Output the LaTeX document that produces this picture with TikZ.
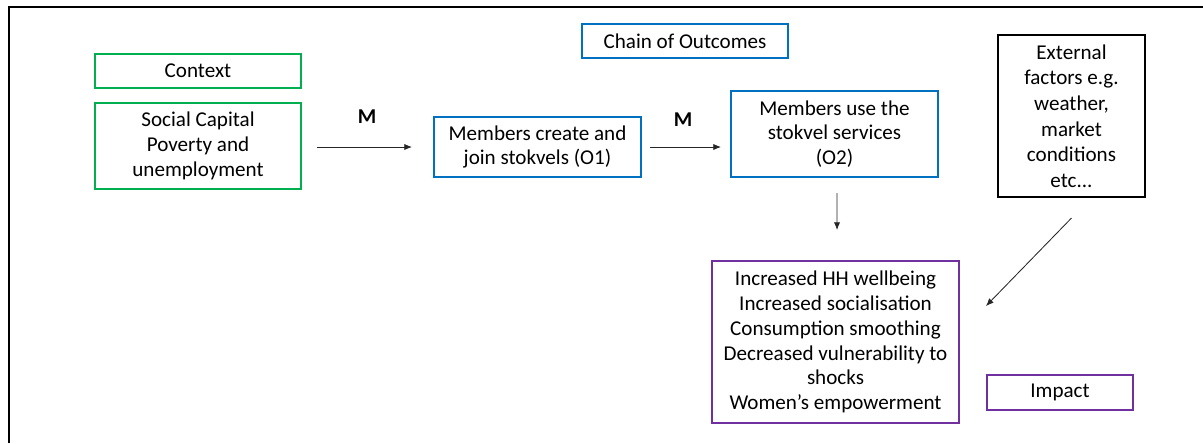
\documentclass[tikz,border=0pt]{standalone}
\usepackage{fontspec}
\setmainfont{Carlito}
\usetikzlibrary{arrows.meta}
\usepackage{xcolor}
\definecolor{ctxgreen}{RGB}{0,176,80}
\definecolor{outblue}{RGB}{0,112,192}
\definecolor{imppurple}{RGB}{112,48,160}

\begin{document}
\begin{tikzpicture}[x=0.025cm, y=-0.025cm,
	box/.style={draw, line width=1.4pt, align=center, inner sep=0pt, font=\fontsize{15}{17.6}\selectfont},
	ctxbox/.style={box, draw=ctxgreen},
	outbox/.style={box, draw=outblue},
	impbox/.style={box, draw=imppurple},
	link/.style={draw=black!85, line width=0.6pt, -{Latex[length=5.5pt,width=4.5pt]}},
	mech/.style={font=\fontsize{15}{17}\selectfont\bfseries}]
	\useasboundingbox (0,0) rectangle (1203,443);
	\draw[line width=1.6pt] (9,443) -- (9,7) -- (1203,7);
	
	% context column
	\node[ctxbox, minimum width=5.15cm, minimum height=0.85cm] (context) at (198,71) {Context};
	\node[ctxbox, minimum width=5.15cm, minimum height=2.15cm] (social) at (198,146) {Social Capital\\Poverty and\\unemployment};
	
	% outcomes
	\node[outbox, minimum width=5.15cm, minimum height=0.85cm] (chain) at (685,41) {Chain of Outcomes};
	\node[outbox, minimum width=5.175cm, minimum height=1.5cm] (o1) at (537.5,147) {Members create and\\join stokvels (O1)};
	\node[outbox, minimum width=5.175cm, minimum height=2.15cm] (o2) at (834.5,134) {Members use the\\stokvel services\\(O2)};
	
	% external factors
	\node[box, draw=black, minimum width=3.675cm, minimum height=4.05cm, font=\fontsize{15}{18.2}\selectfont] (ext) at (1071.5,116) {External\\factors e.g.\\weather,\\market\\conditions\\etc...};
	
	% impact
	\node[impbox, minimum width=6.175cm, minimum height=4.05cm] (impacts) at (835.5,342) {Increased HH wellbeing\\Increased socialisation\\Consumption smoothing\\Decreased vulnerability to\\shocks\\Women’s empowerment};
	\node[impbox, minimum width=3.65cm, minimum height=0.875cm] (impact) at (1060,392.5) {Impact};
	
	\node[mech] (m1) at (367,117) {M};
	\node[mech] (m2) at (683,120) {M};
	
	\draw[link, shorten <=0.375cm, shorten >=0.525cm] (social.east |- o1) -- (o1.west);
	\draw[link, shorten <=0.2cm, shorten >=0.225cm] (o1.east) -- (o1.east -| o2.west);
	\draw[link, shorten <=0.375cm, shorten >=0.75cm] ([xshift=0.06cm]o2.south) -- ([xshift=0.04cm]impacts.north);
	\coordinate (extto) at (986,306);
	\draw[link] ([yshift=-0.5cm]ext.south) -- (extto);
	
\end{tikzpicture}
\end{document}
